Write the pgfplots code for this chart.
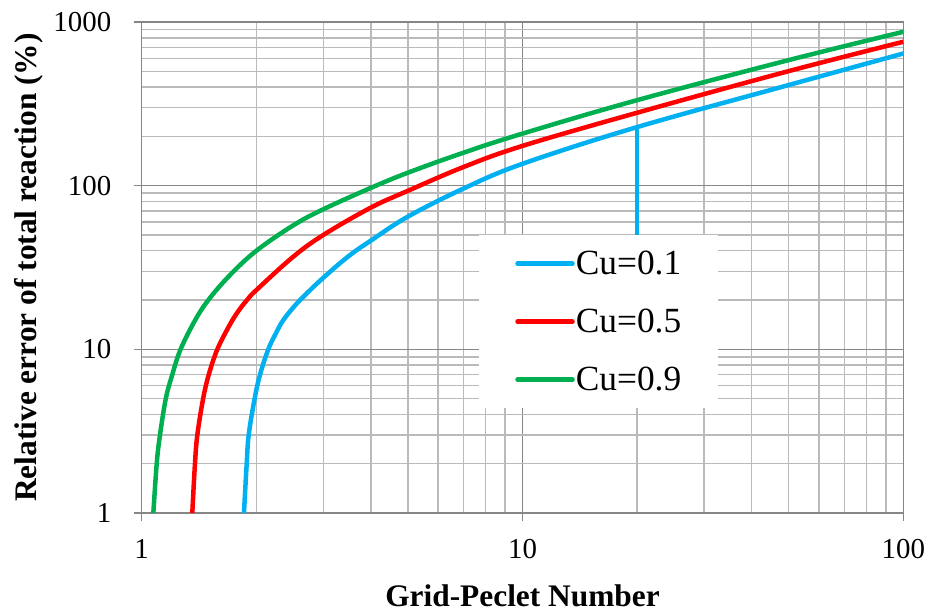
\documentclass[border=0pt]{standalone}
\usepackage{fontspec}
\setmainfont{Liberation Serif}
\usepackage{pgfplots}
\pgfplotsset{compat=1.18}
\definecolor{cblue}{HTML}{00B0F0}
\definecolor{cred}{HTML}{FF0000}
\definecolor{cgreen}{HTML}{00B050}
\definecolor{gmajor}{HTML}{868686}
\definecolor{gminor}{HTML}{BABABA}
\begin{document}
\begin{tikzpicture}
\useasboundingbox (-141.7bp,-102bp) rectangle (791.3bp,513bp);
\begin{axis}[
  at={(0,0)}, anchor=south west,
  scale only axis, width=761.6bp, height=491bp,
  xmode=log, ymode=log,
  xmin=1, xmax=100, ymin=1, ymax=1000,
  xtick={1,10,100}, xticklabels={1,10,100},
  ytick={1,10,100,1000}, yticklabels={1,10,100,1000},
  minor xtick={2,3,4,5,6,7,8,9,20,30,40,50,60,70,80,90},
  minor ytick={2,3,4,5,6,7,8,9,20,30,40,50,60,70,80,90,200,300,400,500,600,700,800,900},
  grid=both,
  major grid style={draw=gmajor, line width=1.4bp},
  minor grid style={draw=gminor, line width=1.4bp},
  axis line style={draw=gmajor, line width=1.4bp},
  tick align=outside, xtick pos=bottom, ytick pos=left,
  major tick length=8bp, minor tick length=0pt,
  every tick/.style={draw=gmajor, line width=1.4bp},
  tick label style={font=\fontsize{29}{33}\selectfont},
  yticklabel style={xshift=-19bp},
  xticklabel style={yshift=-15bp},
  xlabel={\textbf{Grid-Peclet Number}},
  ylabel={\textbf{Relative error of total reaction (\%)}},
  label style={font=\fontsize{31.5}{36}\selectfont},
  xlabel style={at={(axis description cs:0.5,0)}, anchor=base, yshift=-93bp},
  ylabel style={at={(axis description cs:-0.1375,0.5)}, anchor=base},
  legend style={at={(0.443,0.5662)}, anchor=north west, draw=none, fill=white,
    font=\fontsize{35.5}{40}\selectfont, inner xsep=36bp, inner ysep=16bp,
    row sep=33bp, nodes={inner xsep=1bp, inner ysep=0bp}},
  legend cell align=left,
  legend image code/.code={\draw[#1,line cap=round] (0bp,0bp) -- (55bp,0bp);},
]
\addplot[cblue, line width=4.5bp, forget plot] coordinates {(20,228) (20,10)};
\addplot[cblue, line width=4.5bp, smooth, tension=0.6] coordinates {
(1.856,1) (1.887,2) (1.91,3) (1.98,5) (2.045,7) (2.15,10) (2.25,12.5) (2.35,15) (2.5,18) (2.66,21) (3,27.4) (3.5,37.2) (4,46.2) (5,64.7) (7,96) (10,136) (20,228) (50,412) (100,642)};
\addlegendentry{Cu=0.1}
\addplot[cred, line width=4.5bp, smooth, tension=0.6] coordinates {
(1.358,1) (1.38,2) (1.40,3) (1.45,5) (1.50,7) (1.58,10) (1.7,14) (1.79,17) (1.89,20) (2,23) (2.5,36.8) (3,50) (4,73.5) (5,93) (7,130) (10,175) (20,279) (50,501) (100,757)};
\addlegendentry{Cu=0.5}
\addplot[cgreen, line width=4.5bp, smooth, tension=0.6] coordinates {
(1.073,1) (1.095,2) (1.117,3) (1.157,5) (1.203,7) (1.265,10) (1.38,15) (1.496,20) (1.7,28.2) (2,40) (2.5,57.2) (3,71.8) (4,97) (5,120) (7,159) (10,208) (20,333) (50,585) (100,871)};
\addlegendentry{Cu=0.9}
\end{axis}
\end{tikzpicture}
\end{document}
